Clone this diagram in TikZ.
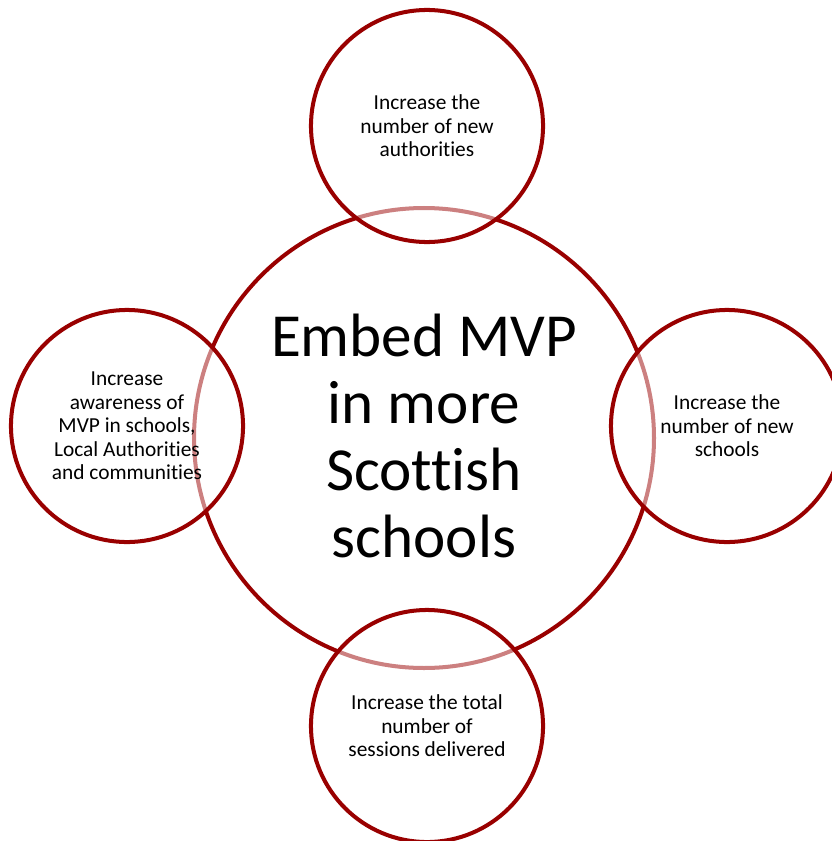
\documentclass[tikz,border=0pt]{standalone}
\usepackage{fontspec}
\setmainfont{Carlito}[Ligatures=NoCommon]
\definecolor{ringred}{RGB}{153,0,0}
\tikzset{
  ring/.style={draw=ringred, line width=2.85pt, circle, inner sep=0pt, align=center},
  aim/.style={ring, minimum size=5.8cm, fill=white, fill opacity=0.5, text opacity=1,
    font=\fontsize{15.2}{16.7}\selectfont},
}
\begin{document}
\begin{tikzpicture}[x=0.025cm, y=-0.025cm]
    \useasboundingbox (0,0) rectangle (832,841); % same frame as the picture
    \draw[ringred, line width=2.85pt] (424,438) circle (230); % big centre circle
    \node[align=center, font=\fontsize{43.5}{47.5}\selectfont] (goal) at (424,436) {Embed MVP\\in more\\Scottish\\schools}; % centre text
    \node[aim] (authorities) at (427,126) {Increase the\\number of new\\authorities}; % top
    \node[aim] (awareness) at (127,426) {Increase\\awareness of\\MVP in schools,\\Local Authorities\\and communities}; % left
    \node[aim] (schools) at (727,426) {Increase the\\number of new\\schools}; % right
    \node[aim] (sessions) at (427,726) {Increase the total\\number of\\sessions delivered}; % bottom
\end{tikzpicture}
\end{document}
